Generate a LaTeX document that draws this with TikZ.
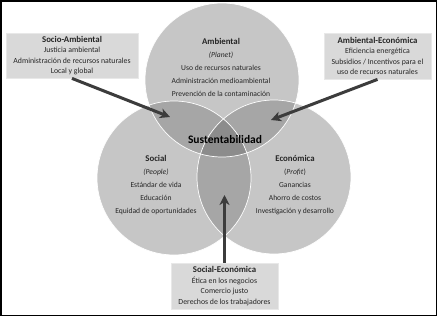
\documentclass[tikz,border=0pt]{standalone}
\usepackage{fontspec}
\setmainfont{Carlito}
\usetikzlibrary{arrows.meta}
\definecolor{circfill}{HTML}{C6C6C6}
\definecolor{ovlfill}{HTML}{A6A6A6}
\definecolor{ctrfill}{HTML}{8C8C8C}
\definecolor{boxfill}{HTML}{D9D9D9}
\definecolor{boxedge}{HTML}{E8E8E8}
\definecolor{arrcol}{HTML}{3C3C3C}
\begin{document}
\begin{tikzpicture}[x=1pt,y=-1pt,
  infobox/.style={fill=boxfill,draw=boxedge,line width=0.8pt,inner sep=0pt,align=center,
    font=\fontsize{7.8}{10.5}\selectfont,text=black!85},
  circtext/.style={align=center,font=\fontsize{7.6}{13.2}\selectfont,text=black!85},
  arr/.style={draw=arrcol,line width=3pt,-{Stealth[length=10pt,width=10pt,inset=3pt]}}]
\useasboundingbox (0,0) rectangle (437,316);
\fill[white] (0,0) rectangle (437,316);
% circles
\coordinate (cA) at (222,80);
\coordinate (cS) at (174,178);
\coordinate (cE) at (274,177);
\fill[circfill] (cA) circle (77pt);
\fill[circfill] (cS) circle (77pt);
\fill[circfill] (cE) circle (77pt);
\begin{scope}
  \clip (cA) circle (77pt);
  \fill[ovlfill] (cS) circle (77pt);
  \fill[ovlfill] (cE) circle (77pt);
\end{scope}
\begin{scope}
  \clip (cS) circle (77pt);
  \fill[ovlfill] (cE) circle (77pt);
\end{scope}
\begin{scope}
  \clip (cA) circle (77pt);
  \clip (cS) circle (77pt);
  \fill[ctrfill] (cE) circle (77pt);
\end{scope}
\draw[white,line width=0.7pt] (cA) circle (77pt);
\draw[white,line width=0.7pt] (cS) circle (77pt);
\draw[white,line width=0.7pt] (cE) circle (77pt);
% circle texts
\node[circtext] (amb) at (221,67.5) {{\fontsize{8.8}{13.2}\selectfont\bfseries Ambiental}\\\textit{(Planet)}\\Uso de recursos naturales\\Administración medioambiental\\Prevención de la contaminación};
\node[circtext] (soc) at (156,185) {{\fontsize{8.8}{13.2}\selectfont\bfseries Social}\\\textit{(People)}\\Estándar de vida\\Educación\\Equidad de oportunidades};
\node[circtext] (eco) at (295,185) {{\fontsize{8.8}{13.2}\selectfont\bfseries Económica}\\(\textit{Profit})\\Ganancias\\Ahorro de costos\\Investigación y desarrollo};
\node[font=\fontsize{11.5}{13}\selectfont\bfseries,text=black] (sus) at (225,140) {Sustentabilidad};
% boxes
\node[infobox,minimum width=132pt,minimum height=45pt] (sa) at (72,55.5)
  {{\fontsize{8.8}{10.5}\selectfont\bfseries Socio-Ambiental}\\Justicia ambiental\\Administración de recursos naturales\\Local y global};
\node[infobox,minimum width=107pt,minimum height=46pt] (ae) at (377.5,56)
  {{\fontsize{8.8}{10.5}\selectfont\bfseries Ambiental-Económica}\\Eficiencia energética\\Subsidios / Incentivos para el\\uso de recursos naturales};
\node[infobox,minimum width=107pt,minimum height=46pt] (se) at (224.5,286)
  {{\fontsize{8.8}{10.5}\selectfont\bfseries Social-Económica}\\Ética en los negocios\\Comercio justo\\Derechos de los trabajadores};
% arrows
\coordinate (tipSA) at (170,117);
\coordinate (tipAE) at (271,120);
\coordinate (tipSE) at (224.5,195);
\draw[arr] (sa.south) -- (tipSA);
\draw[arr] (ae.south) -- (tipAE);
\draw[arr] (se.north) -- (tipSE);
% frame
\draw[black,line width=1.5pt] (0.75,0.75) rectangle (436.25,315.25);
\end{tikzpicture}
\end{document}
